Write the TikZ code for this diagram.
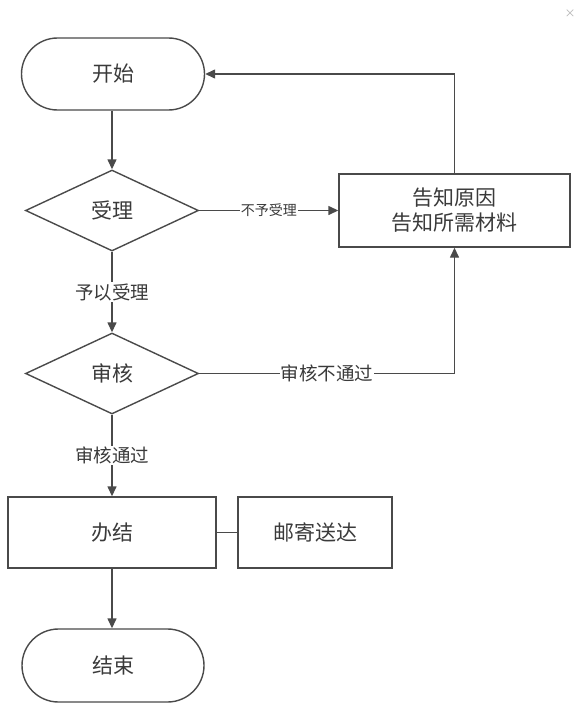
\documentclass[tikz,border=0pt]{standalone}
\usepackage{fontspec}
\newfontfamily\cjk{Noto Sans CJK SC}
\usetikzlibrary{shapes.geometric,shapes.misc,arrows.meta}
\definecolor{lc}{HTML}{4A4A4A}
\definecolor{tc}{HTML}{3A3A3A}
\begin{document}
\begin{tikzpicture}[x=1pt,y=-1pt,
  base/.style={draw=lc, line width=1.4pt, inner sep=0pt, text=tc, align=center,
    font=\cjk\fontsize{21}{25}\selectfont},
  term/.style={base, rounded rectangle, minimum height=72pt},
  dec/.style={base, diamond, minimum width=173pt, minimum height=81pt},
  proc/.style={base, rectangle, minimum height=71pt},
  arr/.style={draw=lc, line width=1.4pt, -{Triangle[length=10pt,width=9pt]}},
  conn/.style={draw=lc, line width=1.4pt},
  lbl/.style={fill=white, text=tc, inner sep=1pt, font=\cjk\fontsize{18.5}{20}\selectfont},
  slbl/.style={fill=white, text=tc, inner sep=1pt, font=\cjk\fontsize{14}{15}\selectfont}]
\useasboundingbox (0,0) rectangle (585,725);
\node[text=gray!60, font=\cjk\fontsize{11}{12}\selectfont] (close) at (570,14) {×};
\node[term, minimum width=183pt] (start) at (113,74) {开始};
\node[dec] (acc) at (112,210.5) {受理};
\node[proc, minimum width=231pt, minimum height=73pt] (tell) at (454.5,210.5) {告知原因\\告知所需材料};
\node[dec] (rev) at (112,373.5) {审核};
\node[proc, minimum width=208pt] (done) at (112,532.5) {办结};
\node[proc, minimum width=154pt] (mail) at (315,532.5) {邮寄送达};
\node[term, minimum width=182pt, minimum height=73pt] (end) at (113,665.5) {结束};
\draw[arr] (start.south -| acc.north) -- (acc.north);
\draw[arr] (acc.east) -- node[slbl] {不予受理} (tell.west);
\draw[arr] (tell.north) |- (start.east);
\draw[arr] (acc.south) -- node[lbl] {予以受理} (rev.north);
\draw[arr] (rev.east) -| node[lbl, pos=0.25] {审核不通过} (tell.south);
\draw[arr] (rev.south) -- node[lbl] {审核通过} (done.north);
\draw[conn] (done.east) -- (mail.west);
\draw[arr] (done.south) -- (done.south |- end.north);
\end{tikzpicture}
\end{document}
